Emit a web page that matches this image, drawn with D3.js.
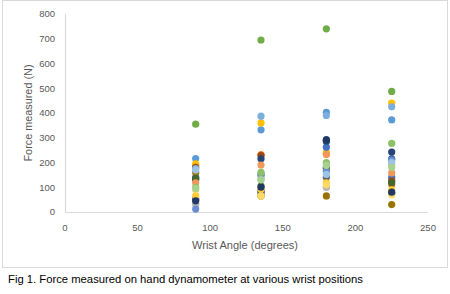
<!DOCTYPE html>
<html>
<head>
<meta charset="utf-8">
<script src="https://cdn.jsdelivr.net/npm/d3@7"></script>
<style>
  body { margin: 0; background: #fff; }
  text { font-family: "Liberation Sans", "DejaVu Sans", sans-serif; }
</style>
</head>
<body>
<svg id="chart" width="450" height="294"></svg>
<script>
// Wrist angles tested (degrees)
const angles = [90, 135, 180, 225];

// One series per participant, force (N) at each angle
const seriesColors = [
  "#5B9BD5", "#ED7D31", "#A5A5A5", "#FFC000", "#4472C4", "#70AD47",
  "#255E91", "#9E480E", "#636363", "#997300", "#264478", "#43682B",
  "#7CAFDD", "#F1975A", "#B7B7B7", "#FFCD33", "#698ED0", "#8CC168",
  "#FFD966", "#9DC3E6", "#A9D18E", "#203864"
];
const seriesValues = [
  [216, 332, 403, 372],
  [188, 232, 235, 110],
  [35, 75, 100, 130],
  [195, 360, 240, 440],
  [55, 148, 262, 140],
  [355, 695, 740, 487],
  [140, 85, 285, 215],
  [180, 228, 175, 125],
  [50, 80, 140, 75],
  [160, 65, 65, 30],
  [130, 215, 293, 242],
  [135, 105, 180, 118],
  [175, 387, 390, 425],
  [118, 190, 232, 158],
  [30, 140, 100, 190],
  [65, 92, 118, 90],
  [12, 155, 165, 210],
  [100, 160, 200, 277],
  [90, 65, 110, 70],
  [170, 130, 152, 200],
  [95, 130, 188, 180],
  [45, 100, 290, 80]
];

const xTicks = [0, 50, 100, 150, 200, 250];
const yTicks = [0, 100, 200, 300, 400, 500, 600, 700, 800];

const svg = d3.select("#chart");
const axisColor = "#d9d9d9",
  labelColor = "#595959";

// chart frame
svg.append("rect")
  .attr("x", 2.5).attr("y", 0.5)
  .attr("width", 445).attr("height", 267)
  .attr("fill", "#fff")
  .attr("stroke", axisColor);

const x = d3.scaleLinear().domain([0, 250]).range([65, 428]);
const y = d3.scaleLinear().domain([0, 800]).range([212, 14]);

// axes lines
svg.append("line")
  .attr("x1", x(0)).attr("x2", x(250))
  .attr("y1", y(0) + 0.5).attr("y2", y(0) + 0.5)
  .attr("stroke", axisColor).attr("stroke-width", 1.2);
svg.append("line")
  .attr("x1", x(0) + 0.5).attr("x2", x(0) + 0.5)
  .attr("y1", y(800)).attr("y2", y(0))
  .attr("stroke", axisColor).attr("stroke-width", 1.2);

// tick labels
svg.selectAll(".ylab").data(yTicks).enter().append("text")
  .attr("x", 55).attr("y", d => y(d))
  .attr("dy", "0.35em")
  .attr("text-anchor", "end")
  .attr("font-size", 9.5)
  .attr("fill", labelColor)
  .text(d => d);

svg.selectAll(".xlab").data(xTicks).enter().append("text")
  .attr("x", d => x(d)).attr("y", 228)
  .attr("dy", "0.35em")
  .attr("text-anchor", "middle")
  .attr("font-size", 9.5)
  .attr("fill", labelColor)
  .text(d => d);

// axis titles
svg.append("text")
  .attr("x", 245).attr("y", 245)
  .attr("dy", "0.35em")
  .attr("text-anchor", "middle")
  .attr("font-size", 10.5)
  .attr("fill", labelColor)
  .attr("textLength", 106)
  .attr("lengthAdjust", "spacingAndGlyphs")
  .text("Wrist Angle (degrees)");

svg.append("text")
  .attr("transform", "translate(28,113) rotate(-90)")
  .attr("dy", "0.35em")
  .attr("text-anchor", "middle")
  .attr("font-size", 10.5)
  .attr("fill", labelColor)
  .attr("textLength", 97)
  .attr("lengthAdjust", "spacingAndGlyphs")
  .text("Force measured (N)");

// the points
seriesValues.forEach((vals, i) => {
  svg.append("g").selectAll("circle")
    .data(vals).enter().append("circle")
    .attr("cx", (d, j) => x(angles[j]))
    .attr("cy", d => y(d))
    .attr("r", 3.6)
    .attr("fill", seriesColors[i]);
});

// caption below the chart
svg.append("text")
  .attr("x", 8).attr("y", 279)
  .attr("dy", "0.35em")
  .attr("font-size", 10.5)
  .attr("fill", "#000")
  .attr("textLength", 355)
  .attr("lengthAdjust", "spacingAndGlyphs")
  .text("Fig 1. Force measured on hand dynamometer at various wrist positions");
</script>
</body>
</html>
